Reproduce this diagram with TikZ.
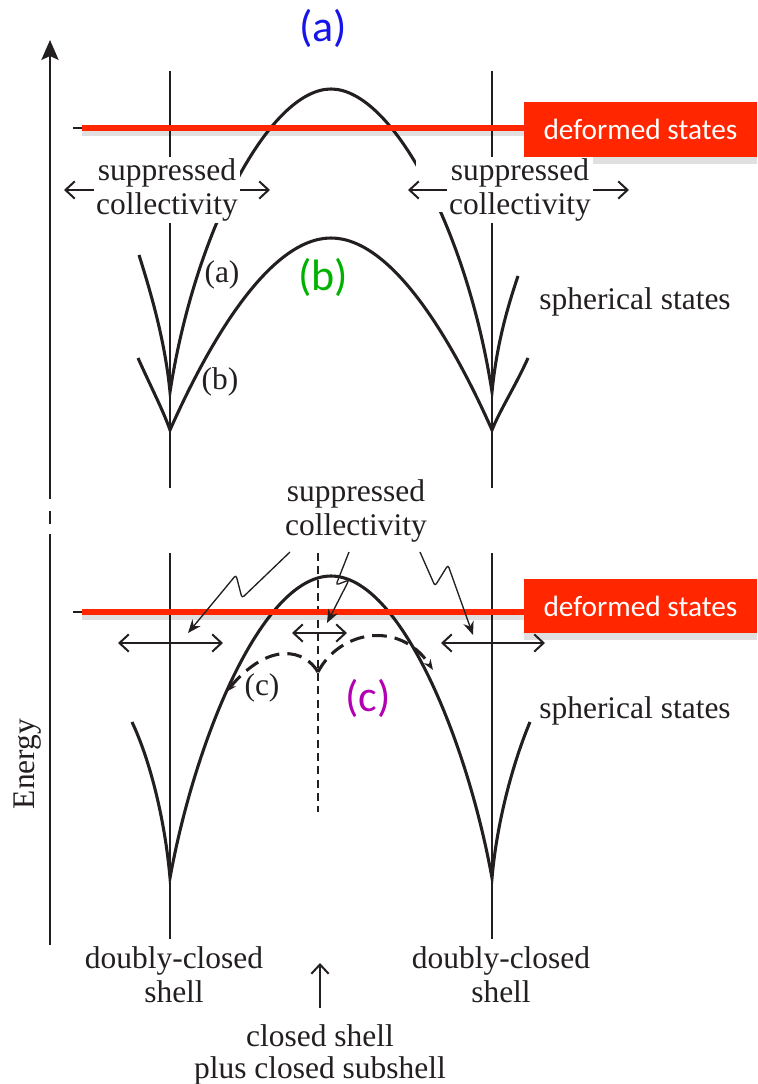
\documentclass[tikz,border=0pt]{standalone}
\usepackage{fontspec}
\setmainfont{Liberation Serif}
\newfontfamily\romana{Liberation Serif}
\newfontfamily\calibri{Carlito}
\usetikzlibrary{arrows.meta}
\definecolor{rojoEstado}{RGB}{255,38,0}
\definecolor{azulA}{RGB}{20,20,235}
\definecolor{verdeB}{RGB}{0,178,0}
\definecolor{moradoC}{RGB}{178,0,178}
\definecolor{tinta}{RGB}{35,31,32}

\begin{document}
\begin{tikzpicture}[x=0.75pt, y=-0.75pt,
    curva/.style={line width=2.3pt, draw=tinta},
    capa/.style={line width=1.1pt, draw=tinta},
    flecha/.style={{Straight Barb[length=7pt,width=13pt]}-{Straight Barb[length=7pt,width=13pt]},
                   line width=1.5pt, draw=tinta},
    rayo/.style={-{Stealth[length=10pt,width=8pt]}, line width=1pt, rounded corners=2pt, draw=tinta},
    texto/.style={font=\romana\fontsize{23.6}{25.5}\selectfont, text=tinta, align=center, inner sep=1.5pt},
    etiqueta/.style={font=\calibri\fontsize{33}{36}\selectfont},
    caja/.style={fill=rojoEstado, text=white, font=\calibri\fontsize{22}{24}\selectfont,
                 minimum width=175pt, minimum height=41pt, inner sep=0pt},
    linea/.style={draw=rojoEstado, line width=3.8pt},
    sombra/.style={draw=black, line width=6pt, opacity=0.12}
  ]
  \useasboundingbox (0,0) rectangle (757,1084);

  % eje de energia
  \draw[capa] (50,945) -- (50,534);
  \draw[capa] (50,511) -- (50,524);
  \draw[capa, -{Stealth[length=15pt,width=13pt,inset=3pt]}] (50,499) -- (50,40);
  \node[texto, rotate=90] (energia) at (28,764) {Energy};

  % capas cerradas
  \draw[capa] (170,71) -- (170,488) (170,553) -- (170,939);
  \draw[capa] (492,71) -- (492,488) (492,553) -- (492,939);

  % panel superior
  \coordinate (cusIa) at (170,392);  \coordinate (cusDa) at (492,392);
  \coordinate (cusIb) at (170,430);  \coordinate (cusDb) at (492,430);
  \draw[curva] (139,255) .. controls (150,290) and (165,340) .. (cusIa)
    .. controls (195,230) and (270,89) .. (331,89)
    .. controls (392,89) and (467,230) .. (cusDa)
    .. controls (497,340) and (510,300) .. (518,276);
  \draw[curva] (138,358) .. controls (150,385) and (163,410) .. (cusIb)
    .. controls (210,340) and (270,238) .. (331,238)
    .. controls (392,238) and (452,340) .. (cusDb)
    .. controls (500,410) and (516,385) .. (528,358);
  \fill[white] (416,160) rectangle (452,212);

  \draw[sombra] (82,132) -- (524,132);
  \fill[black, opacity=0.12] (524,157) rectangle (757,164);
  \draw[capa] (73,128) -- (82,128);
  \draw[linea] (82,128) -- (524,128);
  \node[caja] (deformA) at (640.5,129.5) {deformed states};

  \coordinate (fIa) at (64,190);   \coordinate (fDa) at (270,190);
  \coordinate (fIb) at (408,190);  \coordinate (fDb) at (629,190);
  \draw[flecha] (fIa) -- (fDa);
  \draw[flecha] (fIb) -- (fDb);
  \node[texto, fill=white] (supIzq) at (167,190) {suppressed\\collectivity};
  \node[texto, fill=white] (supDer) at (520,190) {suppressed\\collectivity};

  \node[texto] (etA) at (222,275) {(a)};
  \node[texto] (etB) at (220,382) {(b)};
  \node[texto] (esfA) at (635,302) {spherical states};
  \node[etiqueta, text=azulA] (grA) at (323,28) {(a)};
  \node[etiqueta, text=verdeB] (grB) at (323,277) {(b)};

  % panel inferior
  \coordinate (cusIc) at (170,878);  \coordinate (cusDc) at (492,878);
  \draw[curva] (132,722) .. controls (150,760) and (165,820) .. (cusIc)
    .. controls (195,740) and (262,576) .. (331,576)
    .. controls (400,576) and (467,740) .. (cusDc)
    .. controls (497,820) and (514,760) .. (530,722);
  \coordinate (pico) at (318,672);
  \draw[curva, dash pattern=on 11pt off 6pt, -{Stealth[length=8pt,width=6pt]}]
    (pico) .. controls (305,650) and (270,640) .. (226,692);
  \draw[curva, dash pattern=on 11pt off 6pt, -{Stealth[length=8pt,width=6pt]}]
    (pico) .. controls (340,630) and (400,620) .. (433,670);
  \draw[capa, line width=0.9pt, dash pattern=on 6pt off 4pt] (318,553) -- (318,812);

  \draw[sombra] (82,616) -- (524,616);
  \fill[black, opacity=0.12] (524,633) rectangle (757,640);
  \draw[capa] (73,612) -- (82,612);
  \draw[linea] (82,612) -- (524,612);
  \node[caja] (deformC) at (640.5,606) {deformed states};

  \coordinate (gIa) at (118,643);  \coordinate (gDa) at (223,643);
  \coordinate (gIb) at (292,633);  \coordinate (gDb) at (347,633);
  \coordinate (gIc) at (441,643);  \coordinate (gDc) at (545,643);
  \draw[flecha] (gIa) -- (gDa);
  \draw[flecha] (gIb) -- (gDb);
  \draw[flecha] (gIc) -- (gDc);

  \node[texto] (supC) at (356,511) {suppressed\\collectivity};
  \draw[rayo] (290,552) -- (242,598) -- (236,575) -- (188,633);
  \draw[rayo] (349,552) -- (336,585) -- (349,580) -- (327,623);
  \draw[rayo] (420,552) -- (435,586) -- (448,565) -- (473,635);

  \node[texto] (etC) at (262,688) {(c)};
  \node[etiqueta, text=moradoC] (grC) at (368,698) {(c)};
  \node[texto] (esfC) at (635,711) {spherical states};

  \node[texto] (dobleI) at (174,975) {doubly-closed\\shell};
  \node[texto] (dobleD) at (501,975) {doubly-closed\\shell};
  \node[texto, font=\romana\fontsize{23.6}{24}\selectfont] (subcapa) at (320,1055) {closed shell\\plus closed subshell};
  \coordinate (baseF) at (320,1008);
  \draw[capa, line width=1.5pt, -{Straight Barb[length=7pt,width=13pt]}] (baseF) -- (320,963);
\end{tikzpicture}
\end{document}
